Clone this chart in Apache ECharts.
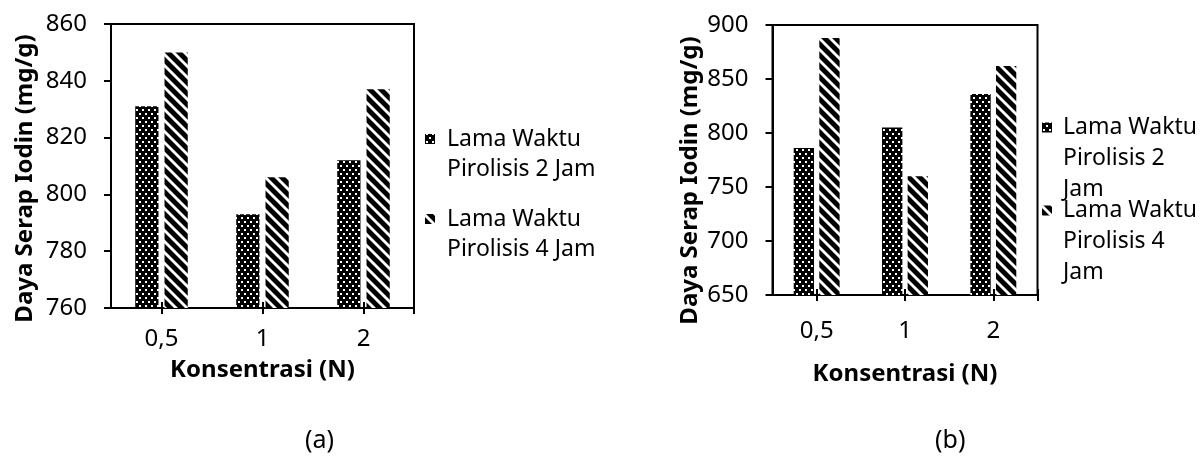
<!DOCTYPE html>
<html>
<head>
<meta charset="utf-8">
<script src="https://cdn.jsdelivr.net/npm/echarts@6/dist/echarts.min.js"></script>
<style>
  html, body { margin: 0; padding: 0; background: #fff; }
  #main { width: 1200px; height: 457px; }
</style>
</head>
<body>
<div id="main"></div>
<script>
// data
const kategori = ['0,5', '1', '2'];
const namaSeri = ['Lama Waktu Pirolisis 2 Jam', 'Lama Waktu Pirolisis 4 Jam'];
const jam2A = [831, 793, 812];
const jam4A = [850, 806, 837];
const jam2B = [786, 805, 836];
const jam4B = [888, 760, 862];

const font = '"Noto Sans", "Open Sans", sans-serif';

// pola titik (dotted) dan garis miring (hatched)
function polaTitik() {
  const c = document.createElement('canvas');
  c.width = 6; c.height = 8;
  const ctx = c.getContext('2d');
  ctx.fillStyle = '#000';
  ctx.fillRect(0, 0, 6, 8);
  ctx.fillStyle = '#fff';
  ctx.fillRect(1, 1, 2, 2);
  ctx.fillRect(4, 5, 2, 2);
  return { image: c, repeat: 'repeat' };
}
function polaMiring() {
  const s = 11;
  const c = document.createElement('canvas');
  c.width = s; c.height = s;
  const ctx = c.getContext('2d');
  ctx.fillStyle = '#000';
  ctx.fillRect(0, 0, s, s);
  ctx.strokeStyle = '#fff';
  ctx.lineWidth = 2.8;
  for (let k = -1; k <= 1; k++) {
    ctx.beginPath();
    ctx.moveTo(-2, -2 + k * s);
    ctx.lineTo(s + 2, s + 2 + k * s);
    ctx.stroke();
  }
  return { image: c, repeat: 'repeat' };
}
const warnaTitik = polaTitik();
const warnaMiring = polaMiring();

function sumbuY(grid, min, max, interval, gap, geser) {
  return {
    type: 'value',
    gridIndex: grid,
    min: min,
    max: max,
    interval: interval,
    name: 'Daya Serap Iodin (mg/g)',
    nameLocation: 'middle',
    nameGap: gap,
    nameTextStyle: {
      fontFamily: font, fontWeight: 'bold', fontSize: 24, color: '#000',
      padding: [0, geser, 0, 0]
    },
    axisLine: { show: true, lineStyle: { color: '#000', width: 2 } },
    axisTick: { show: true, length: 7, lineStyle: { color: '#000', width: 2 } },
    axisLabel: { fontFamily: font, fontSize: 24, color: '#000', margin: 24 },
    splitLine: { show: false }
  };
}

function sumbuX(grid, margin, gap) {
  return {
    type: 'category',
    gridIndex: grid,
    data: kategori,
    name: 'Konsentrasi (N)',
    nameLocation: 'middle',
    nameGap: gap,
    nameTextStyle: { fontFamily: font, fontWeight: 'bold', fontSize: 24, color: '#000', verticalAlign: 'top' },
    axisLine: { show: true, lineStyle: { color: '#000', width: 2 } },
    axisTick: { show: false },
    axisLabel: { fontFamily: font, fontSize: 24, color: '#000', margin: margin }
  };
}

// sumbu bantu: tanda tick yang menyilang sumbu x
function sumbuTick(grid) {
  return {
    type: 'value',
    gridIndex: grid,
    position: 'bottom',
    min: 0,
    max: 6,
    offset: -6,
    axisLine: { show: false },
    axisLabel: { show: false },
    splitLine: { show: false },
    axisTick: { show: true, length: 12, customValues: [1, 3, 5, 6], lineStyle: { color: '#000', width: 2 } }
  };
}

function seriBar(nama, data, idx, warna) {
  return {
    name: nama,
    type: 'bar',
    xAxisIndex: idx,
    yAxisIndex: idx,
    barWidth: '23%',
    barGap: '26%',
    itemStyle: { color: warna },
    emphasis: { disabled: true },
    data: data
  };
}

let myChart = echarts.init(document.getElementById('main'));
let option = {
  animation: false,
  title: [
    { text: '(a)', left: 305, top: 428, padding: 0, textStyle: { fontFamily: font, fontWeight: 'normal', fontSize: 25, color: '#000' } },
    { text: '(b)', left: 935, top: 428, padding: 0, textStyle: { fontFamily: font, fontWeight: 'normal', fontSize: 25, color: '#000' } }
  ],
  grid: [
    { left: 111, top: 24, width: 303, height: 284, show: true, borderColor: '#000', borderWidth: 2 },
    { left: 772.5, top: 25, width: 265, height: 270, show: true, borderColor: '#000', borderWidth: 2 }
  ],
  legend: [
    {
      orient: 'vertical',
      left: 425,
      top: 124,
      padding: 0,
      itemGap: 20,
      itemWidth: 17,
      itemHeight: 60,
      selectedMode: false,
      icon: 'path://M0,10h10v10h-10z M0,0 M17,60',
      data: namaSeri,
      formatter: function (n) { return n.replace('Waktu ', 'Waktu\n'); },
      textStyle: { fontFamily: font, fontSize: 23, color: '#000', lineHeight: 30 }
    },
    {
      orient: 'vertical',
      left: 1042,
      top: 112,
      padding: 0,
      itemGap: -10,
      itemWidth: 16,
      itemHeight: 93,
      selectedMode: false,
      icon: 'path://M0,10.5h10v10h-10z M0,0 M16,93',
      data: namaSeri,
      formatter: function (n) { return n.replace('Waktu ', 'Waktu\n').replace(' Jam', '\nJam'); },
      textStyle: { fontFamily: font, fontSize: 23, color: '#000', lineHeight: 31 }
    }
  ],
  xAxis: [sumbuX(0, 19, 50), sumbuX(1, 24, 67), sumbuTick(0), sumbuTick(1)],
  yAxis: [sumbuY(0, 760, 860, 20, 74, 25), sumbuY(1, 650, 900, 50, 70, 41)],
  series: [
    seriBar(namaSeri[0], jam2A, 0, warnaTitik),
    seriBar(namaSeri[1], jam4A, 0, warnaMiring),
    seriBar(namaSeri[0], jam2B, 1, warnaTitik),
    seriBar(namaSeri[1], jam4B, 1, warnaMiring)
  ]
};
myChart.setOption(option);
</script>
</body>
</html>
